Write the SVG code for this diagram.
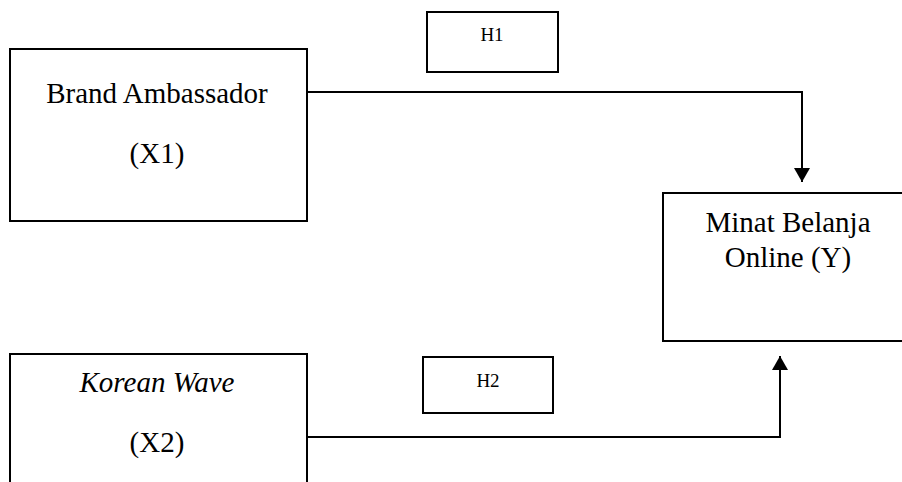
<svg xmlns="http://www.w3.org/2000/svg" width="902" height="482" viewBox="0 0 902 482">
<defs>
<style>
.box{fill:#fff;stroke:#000;stroke-width:2}
.t{font-family:'Liberation Serif','Times New Roman','DejaVu Serif',serif;font-size:29px;fill:#000;text-anchor:middle}
.h{font-family:'Liberation Serif','Times New Roman','DejaVu Serif',serif;font-size:19px;fill:#000;text-anchor:middle}
.c{fill:none;stroke:#000;stroke-width:2}
</style>
<marker id="ah" viewBox="0 0 14 16" refX="14" refY="8" markerWidth="14" markerHeight="16" markerUnits="userSpaceOnUse" orient="auto">
<path d="M0,0 L14,8 L0,16 Z" fill="#000"/>
</marker>
</defs>
<rect width="902" height="482" fill="#fff"/>
<g id="connectors">
<path class="c" d="M307,92 H802 V182" marker-end="url(#ah)"/>
<path class="c" d="M307,437 H780 V356" marker-end="url(#ah)"/>
</g>
<g id="x1">
<rect class="box" x="10" y="49" width="297" height="172"/>
<text class="t" x="157" y="103" font-family="Liberation Serif, serif">Brand Ambassador</text>
<text class="t" x="157" y="163" font-family="Liberation Serif, serif">(X1)</text>
</g>
<g id="h1">
<rect class="box" x="427" y="12" width="131" height="60"/>
<text class="h" x="492" y="41" font-family="Liberation Serif, serif">H1</text>
</g>
<g id="y">
<rect class="box" x="663" y="193" width="250" height="148"/>
<text class="t" x="788" y="232" font-family="Liberation Serif, serif">Minat Belanja</text>
<text class="t" x="788" y="267" font-family="Liberation Serif, serif">Online (Y)</text>
</g>
<g id="x2">
<rect class="box" x="10" y="354" width="297" height="150"/>
<text class="t" x="157" y="392" font-style="italic" font-family="Liberation Serif, serif">Korean Wave</text>
<text class="t" x="157" y="452" font-family="Liberation Serif, serif">(X2)</text>
</g>
<g id="h2">
<rect class="box" x="423" y="357" width="130" height="56"/>
<text class="h" x="488" y="387" font-family="Liberation Serif, serif">H2</text>
</g>
</svg>
